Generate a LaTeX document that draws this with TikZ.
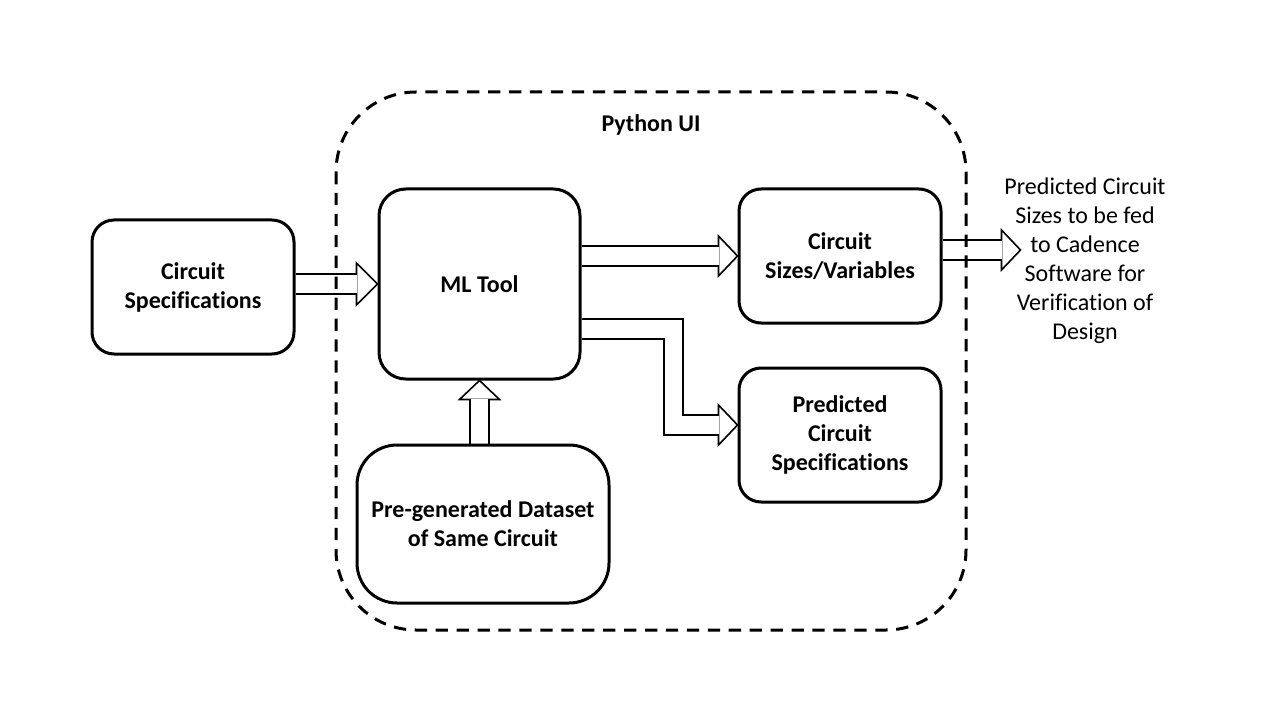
\documentclass[tikz,border=0pt]{standalone}
\usepackage{fontspec}
\setmainfont{Carlito}[Ligatures=NoCommon]
\usetikzlibrary{calc,positioning,backgrounds}

\begin{document}
\begin{tikzpicture}[x=0.75pt,y=-0.75pt,
	box/.style={draw,line width=2.25pt,rounded corners=16.5pt,inner sep=0pt,align=center,
		minimum width=151.5pt,minimum height=100.5pt,
		font=\bfseries\fontsize{18}{21.75}\selectfont},
	shaft/.style={line width=1.2pt,double=white,double distance=13.4pt,line join=miter},
	head/.style={draw,line width=1.2pt,fill=white,line join=miter},
	uibox/.style={draw,line width=2.25pt,rounded corners=60pt,dash pattern=on 9.2pt off 6.5pt}]

	\useasboundingbox (0,0) rectangle (1280,720);

	% Python UI frame
	\draw[uibox] (336,92) rectangle (966,630);
	\node[font=\bfseries\fontsize{18}{21.75}\selectfont] (ui) at (651,125) {Python UI};

	\node[box] (spec) at (193,287) {Circuit\\Specifications};
	\node[box,rounded corners=20pt,minimum width=150.75pt,minimum height=142.5pt] (ml) at (479.5,284) {ML Tool};
	\node[box] (sizes) at (840,256) {Circuit\\Sizes/Variables};
	\node[box] (pred) at (840,435) {Predicted\\Circuit\\Specifications};
	\node[box,rounded corners=30pt,minimum width=189pt,minimum height=118.5pt] (data) at (483,524) {Pre-generated Dataset\\of Same Circuit};
	\node[align=center,inner sep=0pt,font=\fontsize{18}{21.75}\selectfont] (info) at (1085,260.5)
		{Predicted Circuit\\Sizes to be fed\\to Cadence\\Software for\\Verification of\\Design};

	\coordinate (ptip) at ($(pred.west)+(0,-10)$);
	\coordinate (fed) at ($(sizes.east)+(78,-6)$);

	\begin{scope}[on background layer]
		% heads
		\draw[head] (ml.west) -- ++(-21,-21) -- ++(0,42) -- cycle;
		\draw[head] (sizes.west) -- ++(-19,-20) -- ++(0,40) -- cycle;
		\draw[head] (ptip) -- ++(-19,-20) -- ++(0,40) -- cycle;
		\draw[head] (fed) -- ++(-19,-20) -- ++(0,40) -- cycle;
		\draw[head] (ml.south) -- ++(-20,19) -- ++(40,0) -- cycle;
		% shafts
		\draw[shaft] (spec.east |- ml.west) -- ($(ml.west)+(-20.2,0)$);
		\draw[shaft] (ml.east |- sizes.west) -- ($(sizes.west)+(-18.2,0)$);
		\draw[shaft] ($(ml.east)+(0,45)$) -| ($(ptip)+(-64,0)$) -- ($(ptip)+(-18.2,0)$);
		\draw[shaft] (sizes.east |- fed) -- ($(fed)+(-18.2,0)$);
		\draw[shaft] (ml.south |- data.north) -- ($(ml.south)+(0,18.2)$);
	\end{scope}
\end{tikzpicture}
\end{document}
